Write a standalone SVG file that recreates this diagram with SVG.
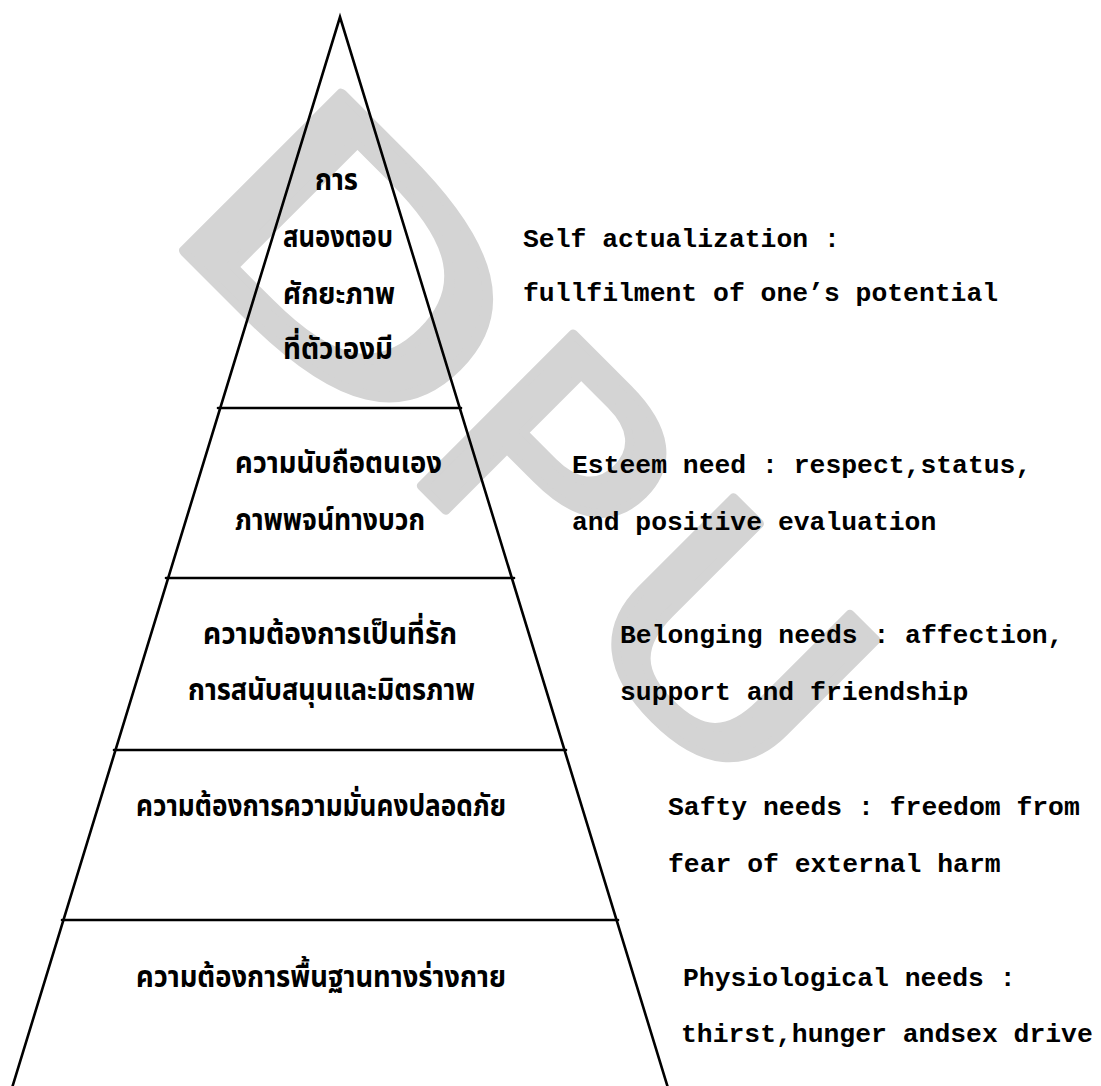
<svg xmlns="http://www.w3.org/2000/svg" width="1101" height="1086" viewBox="0 0 1101 1086">
<style>
.wm{font-family:"DejaVu Sans","Liberation Sans",sans-serif;font-size:287px;fill:#d4d4d4;stroke:#d4d4d4;stroke-width:8px;stroke-linejoin:round}
.edge{stroke:#000;stroke-width:2.6;fill:none;stroke-linecap:round}
.th{font-family:"Noto Sans Thai","Noto Sans Thai Looped","Garuda","Loma","Tlwg Typo","Noto Sans",sans-serif;font-size:30px;font-weight:bold;fill:#000}
.en{font-family:"Liberation Mono","Courier New",monospace;font-size:26.4px;font-weight:bold;fill:#000}
</style>
<rect width="1101" height="1086" fill="#fff"/>
<g id="watermark" transform="rotate(45)">
<text class="wm" transform="translate(265,48) scale(1.55,1.07)">D</text>
<text class="wm" transform="translate(608,46) scale(1.2,1.03)">P</text>
<text class="wm" transform="translate(840,42) scale(1.25,1)">U</text>
</g>
<g id="connectors">
<polyline class="edge" points="12,1088 340,17 668,1088"/>
<line class="edge" x1="218" y1="408" x2="461" y2="408"/>
<line class="edge" x1="166" y1="578" x2="514" y2="578"/>
<line class="edge" x1="114" y1="750" x2="566" y2="750"/>
<line class="edge" x1="62" y1="920" x2="618" y2="920"/>
</g>
<g id="level-self">
<text class="th" x="315" y="190" textLength="43" lengthAdjust="spacingAndGlyphs">การ</text>
<text class="th" x="283" y="247" textLength="110" lengthAdjust="spacingAndGlyphs">สนองตอบ</text>
<text class="th" x="283" y="304" textLength="112" lengthAdjust="spacingAndGlyphs">ศักยะภาพ</text>
<text class="th" x="283" y="359" textLength="110" lengthAdjust="spacingAndGlyphs">ที่ตัวเองมี</text>
<text class="en" x="523" y="247">Self actualization :</text>
<text class="en" x="523" y="301">fullfilment of one’s potential</text>
</g>
<g id="level-esteem">
<text class="th" x="235" y="473" textLength="207" lengthAdjust="spacingAndGlyphs">ความนับถือตนเอง</text>
<text class="th" x="235" y="530" textLength="190" lengthAdjust="spacingAndGlyphs">ภาพพจน์ทางบวก</text>
<text class="en" x="572" y="473">Esteem need : respect,status,</text>
<text class="en" x="572" y="530">and positive evaluation</text>
</g>
<g id="level-belonging">
<text class="th" x="203" y="644" textLength="254" lengthAdjust="spacingAndGlyphs">ความต้องการเป็นที่รัก</text>
<text class="th" x="188" y="700" textLength="287" lengthAdjust="spacingAndGlyphs">การสนับสนุนและมิตรภาพ</text>
<text class="en" x="620" y="643">Belonging needs : affection,</text>
<text class="en" x="620" y="700">support and friendship</text>
</g>
<g id="level-safety">
<text class="th" x="136" y="816" textLength="370" lengthAdjust="spacingAndGlyphs">ความต้องการความมั่นคงปลอดภัย</text>
<text class="en" x="668" y="815">Safty needs : freedom from</text>
<text class="en" x="668" y="872">fear of external harm</text>
</g>
<g id="level-physiological">
<text class="th" x="136" y="987" textLength="370" lengthAdjust="spacingAndGlyphs">ความต้องการพื้นฐานทางร่างกาย</text>
<text class="en" x="683" y="986">Physiological needs :</text>
<text class="en" x="681" y="1042">thirst,hunger andsex drive</text>
</g>
</svg>
